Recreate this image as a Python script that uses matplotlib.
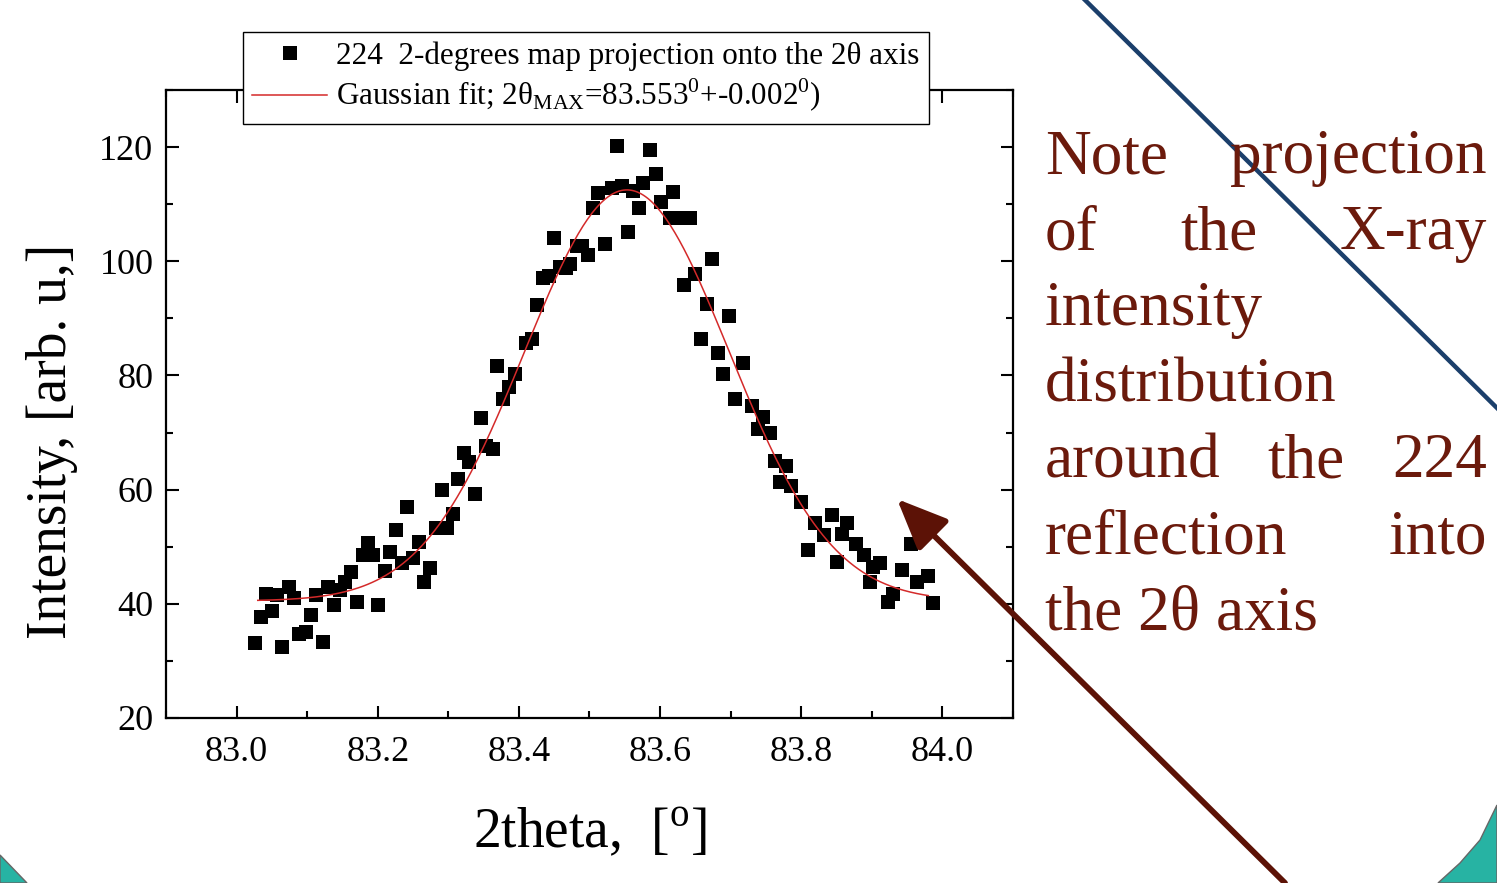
import numpy as np
import matplotlib
matplotlib.use("Agg")
import matplotlib.pyplot as plt
from matplotlib.lines import Line2D
from matplotlib.patches import Polygon, FancyArrowPatch

plt.rcParams['font.family'] = ['Liberation Serif', 'DejaVu Serif']
plt.rcParams['mathtext.fontset'] = 'custom'
plt.rcParams['mathtext.rm'] = 'Liberation Serif'

# measured points (2theta, intensity)
two_theta = [83.026, 83.034, 83.042, 83.050, 83.057, 83.065, 83.074, 83.082, 83.089, 83.098,
             83.106, 83.113, 83.122, 83.129, 83.138, 83.146, 83.153, 83.162, 83.170, 83.179,
             83.186, 83.193, 83.201, 83.210, 83.218, 83.226, 83.234, 83.241, 83.250, 83.258,
             83.265, 83.274, 83.282, 83.291, 83.298, 83.306, 83.313, 83.322, 83.329, 83.338,
             83.346, 83.353, 83.363, 83.369, 83.377, 83.386, 83.394, 83.410, 83.418, 83.426,
             83.434, 83.443, 83.450, 83.458, 83.467, 83.472, 83.482, 83.490, 83.498, 83.505,
             83.512, 83.522, 83.532, 83.539, 83.546, 83.555, 83.562, 83.570, 83.576, 83.586,
             83.594, 83.601, 83.614, 83.618, 83.631, 83.634, 83.643, 83.650, 83.658, 83.667,
             83.674, 83.682, 83.689, 83.697, 83.706, 83.718, 83.730, 83.739, 83.746, 83.756,
             83.763, 83.770, 83.779, 83.786, 83.799, 83.810, 83.820, 83.832, 83.843, 83.850,
             83.858, 83.865, 83.878, 83.889, 83.898, 83.902, 83.912, 83.923, 83.930, 83.943,
             83.955, 83.964, 83.979, 83.987]
intensity = [33.1, 37.7, 41.7, 38.7, 41.5, 32.4, 42.9, 41.1, 34.7, 35.0,
             38.0, 41.5, 33.3, 42.9, 39.8, 42.4, 43.8, 45.5, 40.3, 48.5,
             50.6, 48.5, 39.8, 45.7, 49.0, 52.9, 47.1, 56.9, 48.1, 50.8,
             43.8, 46.2, 53.2, 59.9, 53.2, 55.8, 61.8, 66.5, 64.8, 59.2,
             72.6, 67.7, 67.2, 81.7, 75.9, 78.0, 80.3, 85.6, 86.3, 92.4,
             97.1, 97.4, 104.1, 99.0, 98.8, 99.5, 102.7, 102.7, 101.1, 109.3,
             112.0, 103.0, 112.8, 120.2, 113.2, 105.1, 112.3, 109.3, 113.7, 119.5,
             115.3, 110.4, 107.6, 112.1, 107.6, 95.9, 107.6, 97.8, 86.3, 92.6,
             100.4, 84.0, 80.3, 90.5, 75.9, 82.1, 74.7, 70.6, 72.8, 70.0,
             65.1, 61.4, 64.1, 60.7, 57.8, 49.4, 54.1, 52.0, 55.5, 47.3,
             52.3, 54.1, 50.4, 48.5, 43.8, 46.4, 47.1, 40.3, 41.8, 45.9,
             50.4, 43.8, 44.8, 40.1]

# gaussian fit parameters
fit_xc = 83.553
fit_y0 = 40.5
fit_amp = 72.0
fit_sigma = 0.145
fit_range = (83.03, 83.98)

W, H = 1497, 883
fig = plt.figure(figsize=(W / 100, H / 100), dpi=100)
ax = fig.add_axes([166 / W, 1 - 718 / H, (1013 - 166) / W, (718 - 90) / H])

ax.plot(two_theta, intensity, 's', color='black', ms=10, mew=0, zorder=3)
xf = np.linspace(fit_range[0], fit_range[1], 300)
yf = fit_y0 + fit_amp * np.exp(-(xf - fit_xc) ** 2 / (2 * fit_sigma ** 2))
ax.plot(xf, yf, color='#d42a2a', lw=1.1, zorder=4)

ax.set_xlim(82.9, 84.1)
ax.set_ylim(20, 130)
ax.set_xticks(np.arange(83.0, 84.01, 0.2))
ax.set_xticks(np.arange(82.9, 84.11, 0.1), minor=True)
ax.set_yticks(np.arange(20, 121, 20))
ax.set_yticks(np.arange(20, 131, 10), minor=True)
ax.xaxis.set_major_formatter(matplotlib.ticker.FormatStrFormatter('%.1f'))
ax.tick_params(which='both', direction='in', top=True, right=True, width=1.5,
               labelsize=26)
ax.tick_params(axis='x', pad=13)
ax.tick_params(axis='y', pad=9)
ax.tick_params(which='major', length=9)
ax.tick_params(which='minor', length=5)
for s in ax.spines.values():
    s.set_linewidth(1.6)

ax.set_xlabel('2theta,  [$^{\\mathregular{o}}$]', fontsize=40)
ax.set_ylabel('Intensity, [arb. u,]', fontsize=40)
ax.xaxis.set_label_coords(0.5, -0.14)
ax.yaxis.set_label_coords(-0.104, 0.44)

handles = [Line2D([], [], marker='s', color='black', ls='none', ms=10, mew=0),
           Line2D([], [], color='#d42a2a', lw=1.1)]
labels = ['224  2-degrees map projection onto the 2\u03b8 axis',
          'Gaussian fit; 2\u03b8$_{\\mathregular{MAX}}$=83.553$^{\\mathregular{0}}$+-0.002$^{\\mathregular{0}}$)']
leg = fig.legend(handles, labels, loc='upper left', bbox_to_anchor=(243 / W, 1 - 32 / H),
                 fontsize=22.4, frameon=True, fancybox=False, edgecolor='black',
                 framealpha=1, borderaxespad=0, handlelength=2.4, handletextpad=0.3,
                 borderpad=0.3, labelspacing=0.2)
leg.get_frame().set_linewidth(1.0)

# decorative slide elements
fig.add_artist(Line2D([1085 / W, 1 + 2 / W], [1, 1 - 410 / H], color='#1b3f6b', lw=3.2))
fig.add_artist(Polygon([(1497 / W, 1 - 805 / H), (1480 / W, 1 - 840 / H), (1460 / W, 1 - 863 / H),
                        (1438 / W, 0), (1, 0)], closed=True, facecolor='#27b3a3',
                       edgecolor='#666666', lw=1.0))
fig.add_artist(Polygon([(0, 1 - 855 / H), (27 / W, 0), (0, 0)], closed=True,
                       facecolor='#27b3a3', edgecolor='#666666', lw=1.0))
fig.add_artist(FancyArrowPatch((1285 / W, 0), (897 / W, 1 - 499 / H), transform=fig.transFigure,
                               arrowstyle='-|>,head_length=1.4,head_width=0.6', mutation_scale=22,
                               color='#5c1206', lw=4.2, shrinkA=0, shrinkB=0))

# justified note text
note_lines = [['Note', 'projection'], ['of', 'the', 'X-ray'], ['intensity'], ['distribution'],
              ['around', 'the', '224'], ['reflection', 'into'], ['the 2\u03b8 axis']]
note_left, note_right = 1045, 1487
note_base, note_step = 173, 76
note_color = '#6b1a0c'
renderer = fig.canvas.get_renderer()
for i, words in enumerate(note_lines):
    yb = 1 - (note_base + i * note_step) / H
    arts = [fig.text(0, yb, w, fontsize=45.5, color=note_color, va='baseline', ha='left')
            for w in words]
    widths = [a.get_window_extent(renderer).width for a in arts]
    if len(words) > 1:
        gap = (note_right - note_left - sum(widths)) / (len(words) - 1)
    else:
        gap = 0
    x = note_left
    for a, wd in zip(arts, widths):
        a.set_x(x / W)
        x += wd + gap

fig.savefig('out.png', dpi=100)
